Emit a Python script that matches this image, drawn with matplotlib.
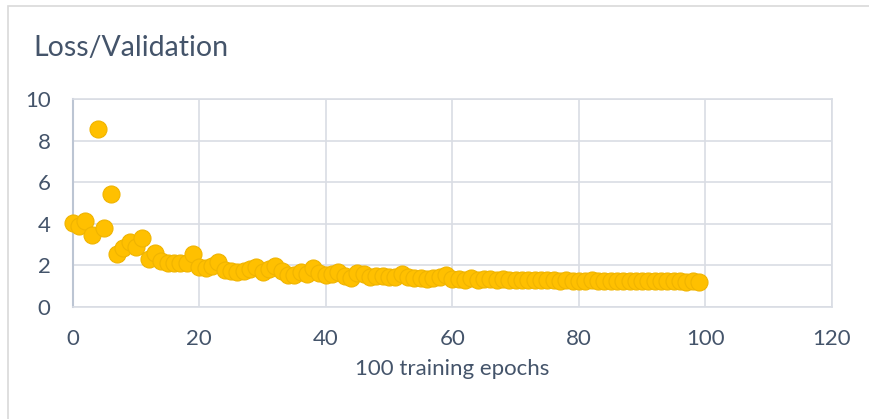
import matplotlib
matplotlib.use("Agg")
import matplotlib.pyplot as plt
from matplotlib.patches import Rectangle

plt.rcParams['font.family'] = ['Lato', 'DejaVu Sans']

TEXT = '#44546A'
GRID = '#D9DDE4'
GOLD = '#FFC000'

# validation loss after each of the 100 epochs
epochs = list(range(100))
loss = [
    4.02, 3.89, 4.15, 3.46, 8.56, 3.78, 5.43, 2.55, 2.82, 3.14,
    2.90, 3.32, 2.29, 2.58, 2.21, 2.13, 2.13, 2.13, 2.12, 2.55,
    1.94, 1.86, 1.97, 2.18, 1.78, 1.75, 1.70, 1.73, 1.81, 1.91,
    1.67, 1.81, 1.97, 1.75, 1.54, 1.54, 1.70, 1.59, 1.86, 1.62,
    1.52, 1.57, 1.70, 1.49, 1.41, 1.65, 1.57, 1.46, 1.51, 1.51,
    1.44, 1.46, 1.57, 1.46, 1.38, 1.38, 1.35, 1.38, 1.43, 1.54,
    1.33, 1.36, 1.32, 1.38, 1.31, 1.33, 1.34, 1.30, 1.33, 1.31,
    1.30, 1.31, 1.29, 1.30, 1.28, 1.29, 1.28, 1.27, 1.28, 1.27,
    1.27, 1.26, 1.28, 1.27, 1.26, 1.25, 1.27, 1.25, 1.25, 1.24,
    1.25, 1.24, 1.24, 1.23, 1.24, 1.23, 1.23, 1.22, 1.23, 1.22,
]
x_ticks = [0, 20, 40, 60, 80, 100, 120]
y_ticks = [0, 2, 4, 6, 8, 10]

fig = plt.figure(figsize=(8.7, 4.19), dpi=100)
ax = fig.add_axes([0.0836, 0.2673, 0.8727, 0.4964])

# chart frame
fig.patches.append(Rectangle((8 / 870, -0.2), 1.2, 1.2 - 6 / 419,
                             transform=fig.transFigure, fill=False,
                             edgecolor='#D9D9D9', linewidth=1.2))

ax.scatter(epochs, loss, s=150, color=GOLD, edgecolor='#F0B400',
           linewidth=0.8, zorder=3, clip_on=False)

ax.set_xlim(0, 120)
ax.set_ylim(0, 10)
ax.set_xticks(x_ticks)
ax.set_yticks(y_ticks)
ax.grid(True, color=GRID, linewidth=1.2)
ax.set_axisbelow(True)
for side in ['top', 'right', 'bottom']:
    ax.spines[side].set_color(GRID)
    ax.spines[side].set_linewidth(1.2)
ax.spines['left'].set_color('#BCC5D3')
ax.spines['left'].set_linewidth(1.5)
ax.tick_params(length=0, labelsize=16, labelcolor=TEXT)
ax.tick_params(axis='x', pad=16)
ax.tick_params(axis='y', pad=16)

ax.set_xlabel('100 training epochs', fontsize=16, color=TEXT, labelpad=7)
fig.text(33 / 870, 1 - 48 / 419, 'Loss/Validation', fontsize=20.5,
         color=TEXT, ha='left', va='center')

fig.savefig('out.png', dpi=100)
